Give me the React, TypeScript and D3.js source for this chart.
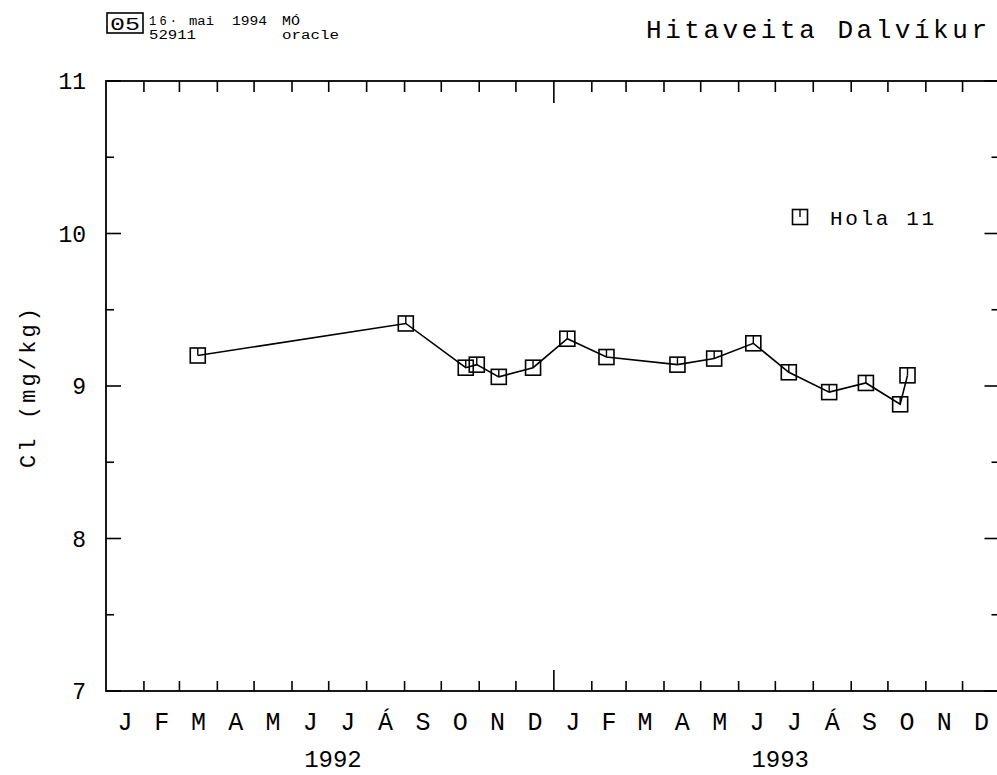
import React from "react";
import * as d3 from "d3";

const sampleDates = [
  "1992-03-16", "1992-09-02", "1992-10-21", "1992-10-30", "1992-11-17", "1992-12-15",
  "1993-01-12", "1993-02-13", "1993-04-12", "1993-05-12", "1993-06-13", "1993-07-12",
  "1993-08-14", "1993-09-13", "1993-10-11", "1993-10-17",
];
const clValues = [9.2, 9.41, 9.12, 9.14, 9.06, 9.12, 9.31, 9.19, 9.14, 9.18, 9.28, 9.09, 8.96, 9.02, 8.88, 9.07];
const monthLabels = ["J", "F", "M", "A", "M", "J", "J", "Á", "S", "O", "N", "D"];
const yearLabels = ["1992", "1993"];
const yMajorTicks = [7, 8, 9, 10, 11];
const yMinorTicks = [7.5, 8.5, 9.5, 10.5];
const seriesName = "Hola 11";
const title = "Hitaveita Dalvíkur";
const yTitle = "Cl  (mg/kg)";

const FONT = "'Liberation Mono', 'DejaVu Sans Mono', monospace";

export default function App() {
  const W = 997, H = 775;
  const left = 106, right = 1000.5, top = 81, bottom = 691;
  const t0 = new Date(Date.UTC(1992, 0, 1));
  const t1 = new Date(Date.UTC(1994, 0, 1));
  const x = d3.scaleUtc().domain([t0, t1]).range([left, right]);
  const y = d3.scaleLinear().domain([7, 11]).range([bottom, top]);

  const pts = sampleDates.map((d, i) => ({ t: new Date(d + "T00:00:00Z"), v: clValues[i] }));
  const line = d3.line<{ t: Date; v: number }>().x((d) => x(d.t)).y((d) => y(d.v));

  const months = d3.utcMonth.range(t0, t1);
  const boundaries = months.slice(1);
  const years = d3.utcYear.range(t0, t1);

  const ms = 15;
  const marker = (cx: number, cy: number, key: string | number) => (
    <g key={key}>
      <rect x={cx - ms / 2} y={cy - ms / 2} width={ms} height={ms} fill="none" stroke="#000" strokeWidth={1.6} />
      <line x1={cx} y1={cy - ms / 2} x2={cx} y2={cy} stroke="#000" strokeWidth={1.4} />
    </g>
  );

  return (
    <svg width={W} height={H} style={{ position: "absolute", left: 0, top: 0, background: "#fff" }} fontFamily={FONT}>
      <rect x={0} y={0} width={W} height={H} fill="#fff" />
      {/* header */}
      <rect x={107} y={13} width={36} height={20} fill="none" stroke="#000" strokeWidth={1.6} />
      <text x={125} y={30} fontSize={19} textAnchor="middle" textLength={30} lengthAdjust="spacingAndGlyphs">05</text>
      <text x={149} y={25} fontSize={12} textLength={28} lengthAdjust="spacing">16·</text>
      <text x={189} y={25} fontSize={12} textLength={25} lengthAdjust="spacingAndGlyphs">mai</text>
      <text x={232} y={25} fontSize={12} textLength={35} lengthAdjust="spacingAndGlyphs">1994</text>
      <text x={282} y={25} fontSize={12} textLength={18} lengthAdjust="spacingAndGlyphs">MÓ</text>
      <text x={149} y={39} fontSize={12} textLength={47} lengthAdjust="spacingAndGlyphs">52911</text>
      <text x={282} y={39} fontSize={12} textLength={57} lengthAdjust="spacingAndGlyphs">oracle</text>
      <text x={646} y={38} fontSize={26} textLength={341} lengthAdjust="spacing">{title}</text>

      {/* frame */}
      <rect x={left} y={top} width={right - left} height={bottom - top} fill="none" stroke="#000" strokeWidth={1.8} />

      {/* y ticks */}
      {yMajorTicks.map((v) => (
        <g key={"ym" + v}>
          <line x1={left} x2={left + 15} y1={y(v)} y2={y(v)} stroke="#000" strokeWidth={1.6} />
          <line x1={right} x2={right - 16} y1={y(v)} y2={y(v)} stroke="#000" strokeWidth={1.6} />
          <text x={86} y={y(v) + 8} fontSize={23} textAnchor="end">{v}</text>
        </g>
      ))}
      {yMinorTicks.map((v) => (
        <g key={"yn" + v}>
          <line x1={left} x2={left + 8} y1={y(v)} y2={y(v)} stroke="#000" strokeWidth={1.6} />
          <line x1={right} x2={right - 9} y1={y(v)} y2={y(v)} stroke="#000" strokeWidth={1.6} />
        </g>
      ))}
      <text transform={`translate(35,${(top + bottom) / 2 + 2}) rotate(-90)`} fontSize={22} textAnchor="middle" textLength={160}>{yTitle}</text>

      {/* x ticks */}
      {boundaries.map((d, i) => {
        const isYear = d.getUTCMonth() === 0;
        return (
          <g key={"xb" + i}>
            <line x1={x(d)} x2={x(d)} y1={bottom} y2={bottom - (isYear ? 21 : 10)} stroke="#000" strokeWidth={1.6} />
            <line x1={x(d)} x2={x(d)} y1={top} y2={top + (isYear ? 22 : 11)} stroke="#000" strokeWidth={1.6} />
          </g>
        );
      })}
      {months.map((d, i) => {
        const mid = new Date((d.getTime() + d3.utcMonth.offset(d, 1).getTime()) / 2);
        return (
          <text key={"ml" + i} x={x(mid)} y={730} fontSize={25} textAnchor="middle">{monthLabels[d.getUTCMonth()]}</text>
        );
      })}
      {years.map((d, i) => {
        const mid = new Date((d.getTime() + d3.utcYear.offset(d, 1).getTime()) / 2);
        return (
          <text key={"yl" + i} x={x(mid) + 3} y={767} fontSize={24} textAnchor="middle">{yearLabels[i]}</text>
        );
      })}

      {/* data */}
      <path d={line(pts) || ""} fill="none" stroke="#000" strokeWidth={1.6} />
      {pts.map((p, i) => marker(x(p.t), y(p.v), i))}

      {/* legend */}
      {marker(800, 217, "leg")}
      <text x={830} y={225} fontSize={21} textLength={104}>{seriesName}</text>
    </svg>
  );
}
